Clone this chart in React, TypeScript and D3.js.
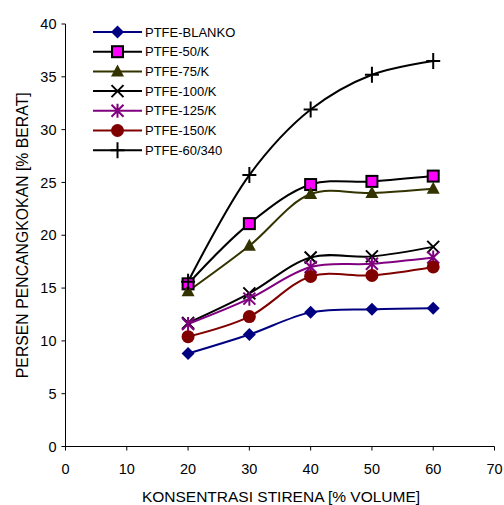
import React from "react";
import * as d3 from "d3";

const xValues = [20, 30, 40, 50, 60];
const seriesNames = ["PTFE-BLANKO", "PTFE-50/K", "PTFE-75/K", "PTFE-100/K", "PTFE-125/K", "PTFE-150/K", "PTFE-60/340"];
const blanko = [8.8, 10.6, 12.7, 13.0, 13.1];
const k50 = [15.4, 21.1, 24.8, 25.1, 25.6];
const k75 = [14.7, 19.0, 23.9, 24.0, 24.4];
const k100 = [11.7, 14.5, 17.9, 18.0, 18.9];
const k125 = [11.6, 14.0, 17.0, 17.3, 17.9];
const k150 = [10.4, 12.3, 16.1, 16.2, 17.0];
const p60340 = [15.6, 25.7, 31.9, 35.2, 36.5];
const xTicks = [0, 10, 20, 30, 40, 50, 60, 70];
const yTicks = [0, 5, 10, 15, 20, 25, 30, 35, 40];

const allValues = [blanko, k50, k75, k100, k125, k150, p60340];
const lineColors = ["#000080", "#000000", "#333300", "#000000", "#800080", "#800000", "#000000"];
const markerTypes = ["diamond", "square", "triangle", "x", "asterisk", "circle", "plus"];

const FONT = "'Liberation Sans', Arial, sans-serif";

function Marker({ type, x, y }: { type: string; x: number; y: number }) {
  switch (type) {
    case "diamond":
      return <path d={`M${x},${y - 6.5}L${x + 6.5},${y}L${x},${y + 6.5}L${x - 6.5},${y}Z`} fill="#000080" />;
    case "square":
      return <rect x={x - 5.5} y={y - 5.5} width={11} height={11} fill="#FF00FF" stroke="#000" strokeWidth={2} />;
    case "triangle":
      return <path d={`M${x},${y - 7}L${x + 6.5},${y + 5}L${x - 6.5},${y + 5}Z`} fill="#333300" />;
    case "x":
      return <path d={`M${x - 6},${y - 6}L${x + 6},${y + 6}M${x - 6},${y + 6}L${x + 6},${y - 6}`} stroke="#000" strokeWidth={2} />;
    case "asterisk":
      return (
        <path
          d={`M${x - 6},${y - 6}L${x + 6},${y + 6}M${x - 6},${y + 6}L${x + 6},${y - 6}M${x},${y - 7}L${x},${y + 7}`}
          stroke="#800080"
          strokeWidth={2}
        />
      );
    case "circle":
      return <circle cx={x} cy={y} r={6.5} fill="#800000" />;
    case "plus":
      return <path d={`M${x - 7},${y}L${x + 7},${y}M${x},${y - 8}L${x},${y + 8}`} stroke="#000" strokeWidth={2} />;
  }
  return null;
}

export default function App() {
  const width = 504;
  const height = 505;
  const x = d3.scaleLinear().domain([0, 70]).range([65.5, 494.5]);
  const y = d3.scaleLinear().domain([0, 40]).range([446.5, 24]);
  const line = d3
    .line<number>()
    .x((_, i) => x(xValues[i]))
    .y((d) => y(d))
    .curve(d3.curveCatmullRom.alpha(0.5));

  const legendX1 = 93;
  const legendX2 = 142;
  const legendY0 = 32;
  const legendDy = 19.7;

  return (
    <svg width={width} height={height} style={{ position: "absolute", left: 0, top: 0, background: "#fff" }}>
      <rect width={width} height={height} fill="#fff" />
      {/* axes */}
      <line x1={x(0)} x2={x(0)} y1={y(40)} y2={y(0)} stroke="#000" strokeWidth={1} />
      <line x1={x(0)} x2={x(70)} y1={y(0)} y2={y(0)} stroke="#000" strokeWidth={1} />
      {yTicks.map((t) => (
        <g key={"y" + t}>
          <line x1={x(0) - 4} x2={x(0)} y1={y(t)} y2={y(t)} stroke="#000" />
          <text x={x(0) - 9} y={y(t)} dy="0.36em" textAnchor="end" fontFamily={FONT} fontSize={14.5} fill="#000">
            {t}
          </text>
        </g>
      ))}
      {xTicks.map((t) => (
        <g key={"x" + t}>
          <line x1={x(t)} x2={x(t)} y1={y(0)} y2={y(0) + 4} stroke="#000" />
          <text x={x(t)} y={y(0) + 27} textAnchor="middle" fontFamily={FONT} fontSize={14.5} fill="#000">
            {t}
          </text>
        </g>
      ))}
      <text x={281} y={y(0) + 55} textAnchor="middle" fontFamily={FONT} fontSize={15.5} fill="#000">
        KONSENTRASI STIRENA [% VOLUME]
      </text>
      <text
        transform={`translate(28, ${(y(0) + y(40)) / 2}) rotate(-90)`}
        textAnchor="middle"
        fontFamily={FONT}
        fontSize={15.8}
        fill="#000"
      >
        PERSEN PENCANGKOKAN [% BERAT]
      </text>
      {/* series lines */}
      {allValues.map((vals, si) => (
        <path key={"l" + si} d={line(vals) || ""} fill="none" stroke={lineColors[si]} strokeWidth={2} />
      ))}
      {allValues.map((vals, si) =>
        vals.map((v, i) => <Marker key={"m" + si + "-" + i} type={markerTypes[si]} x={x(xValues[i])} y={y(v)} />)
      )}
      {/* legend */}
      {seriesNames.map((name, si) => {
        const ly = legendY0 + si * legendDy;
        return (
          <g key={"lg" + si}>
            <line x1={legendX1} x2={legendX2} y1={ly} y2={ly} stroke={lineColors[si]} strokeWidth={2} />
            <Marker type={markerTypes[si]} x={(legendX1 + legendX2) / 2} y={ly} />
            <text x={legendX2 + 3} y={ly} dy="0.36em" fontFamily={FONT} fontSize={13} fill="#000">
              {name}
            </text>
          </g>
        );
      })}
    </svg>
  );
}
